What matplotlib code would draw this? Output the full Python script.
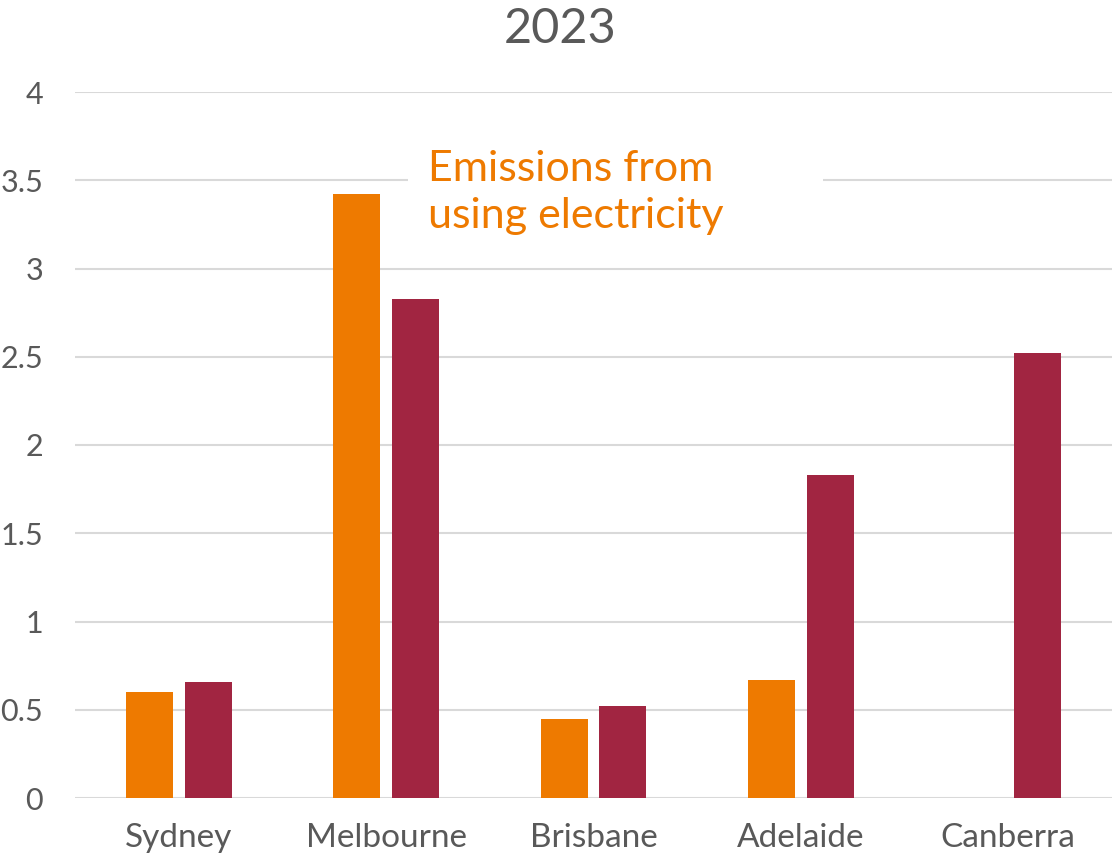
import matplotlib
matplotlib.use("Agg")
import matplotlib.pyplot as plt
import numpy as np
from matplotlib.patches import Rectangle

plt.rcParams['font.family'] = ['Lato', 'DejaVu Sans']

cities = ["Sydney", "Melbourne", "Brisbane", "Adelaide", "Canberra"]
electricity = [0.60, 3.42, 0.45, 0.67, 0.0]
other = [0.66, 2.83, 0.52, 1.83, 2.52]
yticks = [0, 0.5, 1, 1.5, 2, 2.5, 3, 3.5, 4]
ytick_labels = ["0", "0.5", "1", "1.5", "2", "2.5", "3", "3.5", "4"]
title = "2023"
note = "Emissions from\nusing electricity"

orange = "#EE7A00"
maroon = "#A12541"
gray_text = "#595959"
grid_col = "#D9D9D9"

fig = plt.figure(figsize=(11.12, 8.56), dpi=100)
ax = fig.add_axes([75/1112, 1-798/856, 1-75/1112, (798-92)/856])

x = np.arange(len(cities))
w = 0.227
off = 0.142
ax.bar(x - off, electricity, width=w, color=orange, zorder=3)
ax.bar(x + off, other, width=w, color=maroon, zorder=3)

ax.set_xlim(-0.5, len(cities) - 0.5)
ax.set_ylim(0, 4)
ax.set_yticks(yticks)
ax.set_yticklabels(ytick_labels)
ax.set_xticks(x)
ax.set_xticklabels(cities)
for s in ax.spines.values():
    s.set_visible(False)
ax.tick_params(axis='y', length=0, pad=23, labelsize=22, labelcolor=gray_text)
ax.tick_params(axis='x', length=0, pad=18, labelsize=24, labelcolor=gray_text)
ax.yaxis.grid(True, color=grid_col, linewidth=1.5, zorder=0)
ax.set_axisbelow(True)

# white box behind note
ax.add_patch(Rectangle((1.106, 3.25), 2.0, 0.6, facecolor="white",
                       edgecolor="none", zorder=2))
ax.text(1.20, 3.43, note, color=orange, fontsize=31, ha='left', va='center',
        linespacing=1.28, zorder=4)

fig.text(0.504, 0.966, title, ha='center', va='center', fontsize=35,
         color=gray_text)

fig.savefig("out.png", dpi=100)
